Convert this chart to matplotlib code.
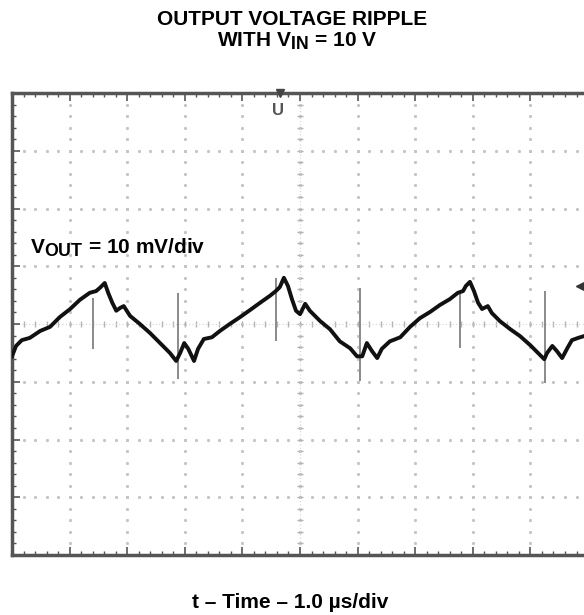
import matplotlib
matplotlib.use("Agg")
import matplotlib.pyplot as plt
import matplotlib._mathtext as mathtext_internal
import numpy as np

plt.rcParams['font.family'] = ['Liberation Sans', 'DejaVu Sans']
plt.rcParams['mathtext.fontset'] = 'custom'
plt.rcParams['mathtext.rm'] = 'Liberation Sans:bold'
plt.rcParams['mathtext.bf'] = 'Liberation Sans:bold'
# the datasheet subscripts are nearly full size
mathtext_internal.SHRINK_FACTOR = 0.85

# ripple trace (t in us, v in mV)
t_us = [0.00, 0.07, 0.17, 0.31, 0.49, 0.66, 0.83, 1.01, 1.18, 1.35,
        1.46, 1.53, 1.61, 1.67, 1.74, 1.81, 1.88, 1.94, 2.05, 2.22,
        2.40, 2.57, 2.74, 2.85, 2.92, 2.99, 3.06, 3.16, 3.23, 3.33,
        3.47, 3.61, 3.78, 3.96, 4.13, 4.31, 4.48, 4.58, 4.65, 4.72,
        4.79, 4.86, 4.93, 5.00, 5.09, 5.17, 5.35, 5.52, 5.69, 5.87,
        5.99, 6.08, 6.16, 6.25, 6.34, 6.42, 6.56, 6.74, 6.91, 7.08,
        7.26, 7.43, 7.60, 7.74, 7.83, 7.88, 7.95, 8.02, 8.09, 8.16,
        8.26, 8.33, 8.47, 8.65, 8.82, 9.00, 9.17, 9.24, 9.29, 9.38,
        9.46, 9.55, 9.64, 9.72, 9.83, 9.93]
v_mv = [-5.6, -3.8, -2.8, -2.4, -1.2, -0.5, 1.2, 2.6, 4.2, 5.4,
        5.7, 6.3, 7.1, 5.4, 3.7, 2.3, 2.8, 3.1, 1.4, 0.0,
        -1.6, -3.3, -5.0, -6.4, -5.0, -3.3, -4.3, -6.4, -4.3, -2.6,
        -2.3, -1.2, 0.0, 1.2, 2.4, 3.7, 4.9, 5.7, 6.4, 8.0,
        6.6, 4.3, 2.3, 1.7, 3.5, 2.3, 0.5, -0.9, -3.0, -4.2,
        -5.6, -5.6, -3.3, -4.7, -5.9, -4.3, -3.0, -2.3, -0.5, 1.0,
        2.1, 3.3, 4.3, 5.4, 5.7, 6.6, 7.3, 5.7, 3.7, 2.6,
        3.1, 1.9, 0.5, -0.9, -2.1, -3.7, -5.4, -6.1, -5.0, -3.8,
        -4.7, -5.9, -4.2, -2.8, -2.4, -2.1]

# switching spikes
spike_t = [1.41, 2.88, 4.58, 6.04, 7.78, 9.25]
spike_top = [4.5, 5.4, 8.0, 6.3, 5.2, 5.7]
spike_bottom = [-4.3, -9.6, -3.0, -9.9, -4.2, -10.3]

fig = plt.figure(figsize=(5.84, 6.15), dpi=100)
ax = fig.add_axes([12 / 584, 1 - 555 / 615, 572 / 584, 462 / 615])
ax.set_xlim(0, 9.93)
ax.set_ylim(-40, 40)

# scope graticule: dotted division lines
dot_v = np.arange(-40, 40.1, 2)
dot_t = np.arange(0, 9.94, 0.2)
for k in range(1, 10):
    ax.plot([k] * len(dot_v), dot_v, ls='none', marker='s', ms=1.1,
            color='#c4c4c4', zorder=1)
for lev in [-30, -20, -10, 10, 20, 30]:
    ax.plot(dot_t, [lev] * len(dot_t), ls='none', marker='s', ms=1.1,
            color='#c4c4c4', zorder=1)
# centre lines with small ticks
ax.plot([5] * len(dot_v), dot_v, ls='none', marker='_', ms=4, mew=1,
        color='#b4b4b4', zorder=1)
ax.plot(dot_t, [0] * len(dot_t), ls='none', marker='|', ms=4, mew=1,
        color='#b4b4b4', zorder=1)
ax.axhline(0, color='#d4d4d4', lw=0.8, ls=(0, (1, 2)), zorder=1)
ax.axvline(5, color='#d4d4d4', lw=0.8, ls=(0, (1, 2)), zorder=1)

ax.vlines(spike_t, spike_bottom, spike_top, color='#8a8a8a', lw=1.4, zorder=2)
ax.plot(t_us, v_mv, color='#111111', lw=2.8, solid_joinstyle='round', zorder=3)

# trigger markers
ax.plot(4.65, 40, marker='v', ms=6, color='#444444', clip_on=False, zorder=5)
ax.text(4.62, 37.0, 'U', fontsize=12, fontweight='bold', color='#555555',
        ha='center', va='center')
ax.plot(9.86, 6.6, marker='<', ms=6, color='#333333', clip_on=False, zorder=5)

ax.text(0.31, 12.3, r'V$_{\mathbf{OUT}}$ = 10 mV/div', fontsize=15,
        fontweight='bold', va='baseline', ha='left')

ax.set_xticks(range(0, 10))
ax.set_yticks(range(-40, 41, 10))
ax.set_xticks(dot_t, minor=True)
ax.set_yticks(dot_v, minor=True)
ax.tick_params(which='both', direction='in', labelbottom=False, labelleft=False,
               top=True, right=False, color='#555555')
ax.tick_params(which='major', length=6, width=1.2)
ax.tick_params(which='minor', length=3, width=1)
for side in ['left', 'top', 'bottom']:
    ax.spines[side].set_color('#555555')
    ax.spines[side].set_linewidth(2.5)
ax.spines['right'].set_visible(False)

fig.text(0.5, 1 - 25 / 615, 'OUTPUT VOLTAGE RIPPLE', fontsize=15,
         fontweight='bold', ha='center', va='baseline')
fig.text(0.508, 1 - 46 / 615, r'WITH V$_{\mathbf{IN}}$ = 10 V', fontsize=15,
         fontweight='bold', ha='center', va='baseline')
fig.text(0.497, 1 - 608 / 615, 't – Time – 1.0 µs/div', fontsize=15,
         fontweight='bold', ha='center', va='baseline')

fig.savefig('out.png', dpi=100)
